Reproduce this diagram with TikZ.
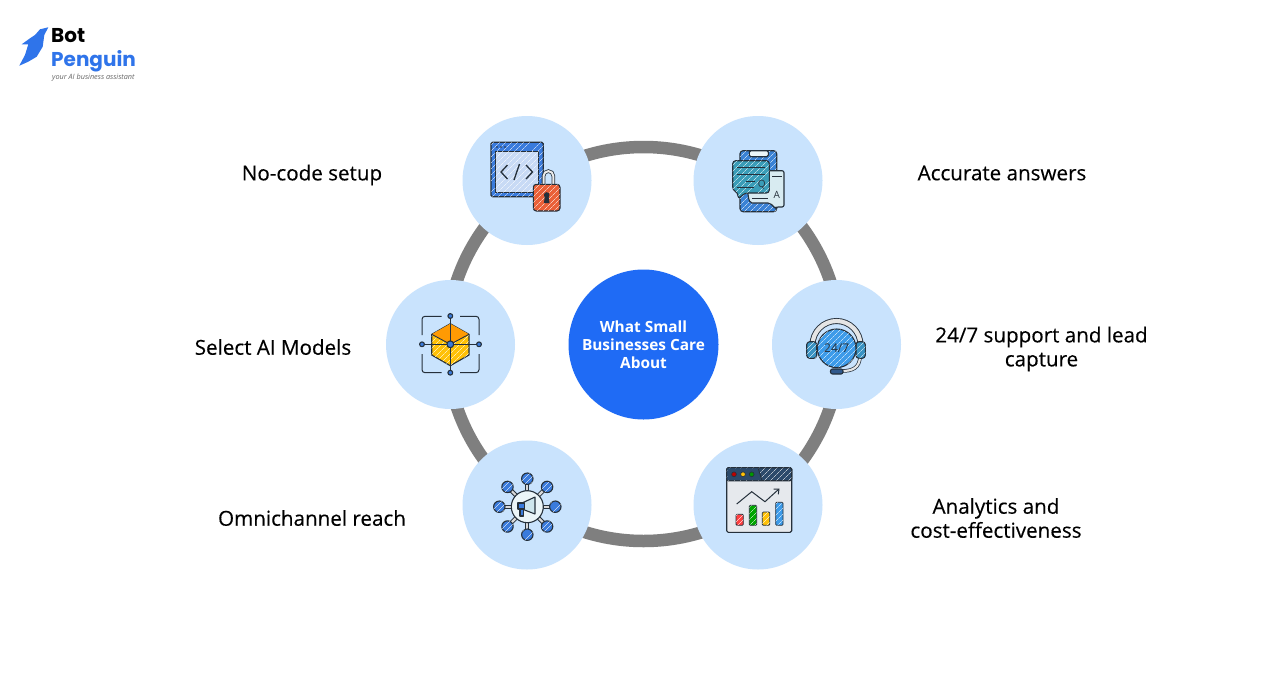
\documentclass[tikz,border=0pt]{standalone}
\usepackage{fontspec}
\setmainfont{Open Sans}
\newfontfamily\logofont{Poppins}
\newfontfamily\captionfont[FakeBold=0.3]{Open Sans}
\usetikzlibrary{patterns.meta,arrows.meta}
\definecolor{bubble}{HTML}{C9E3FD}
\definecolor{hubblue}{HTML}{1F6BF5}
\definecolor{ringgray}{HTML}{7F7F7F}
\definecolor{logoblue}{HTML}{2F74EA}
\definecolor{inkline}{HTML}{25303B}
\definecolor{iconblue}{HTML}{3A7BDC}
\definecolor{lockred}{HTML}{EA6038}
\definecolor{teal1}{HTML}{3A9DB8}
\definecolor{gold}{HTML}{FFC107}
\definecolor{navy}{HTML}{2C4A6B}
\definecolor{clockblue}{HTML}{3D9BE9}
\tikzset{
  bubblenode/.style={shape=circle,fill=bubble,minimum size=129pt,inner sep=0pt},
  caption/.style={shape=rectangle,font=\captionfont\fontsize{20.6}{24}\selectfont,align=center,text=black,inner sep=0pt},
  ink/.style={draw=inkline,line width=1.1pt,line join=round},
  sketch/.style={postaction={pattern={Lines[angle=45,distance=4pt,line width=0.35pt]},pattern color=white}}
}
\begin{document}
\begin{tikzpicture}[x=1pt,y=-1pt]
    \useasboundingbox (0,0) rectangle (1288,686);
    \fill[white] (0,0) rectangle (1288,686);

    \node[shape=circle,draw=ringgray,line width=12.5pt,minimum size=394pt,inner sep=0pt] (ring) at (643.5,344) {};
    \node[shape=circle,fill=hubblue,minimum size=150pt,inner sep=0pt,text=white,align=center,font=\fontsize{15.4}{18}\selectfont\bfseries] (hub) at (643.5,344.5) {What Small\\Businesses Care\\About};

    \node[bubblenode] (setup) at (527,180.5) {};
    \node[bubblenode] (answers) at (758,180.5) {};
    \node[bubblenode] (models) at (450.5,344.5) {};
    \node[bubblenode] (support) at (836.5,344.5) {};
    \node[bubblenode] (reach) at (527,505) {};
    \node[bubblenode] (analytics) at (758,505) {};

    \node[caption] (setup-l) at (312,175) {No-code setup};
    \node[caption] (answers-l) at (1002,173) {Accurate answers};
    \node[caption] (models-l) at (273,347) {Select AI Models};
    \node[caption] (support-l) at (1041.5,349) {24/7 support and lead\\capture};
    \node[caption] (reach-l) at (312,518) {Omnichannel reach};
    \node[caption] (analytics-l) at (996,518) {Analytics and\\cost-effectiveness};

    % logo
    \fill[logoblue] (48.3,27.3) -- (40,29.3) -- (35,35) -- (30,38.3) -- (21.7,44.3) -- (28.3,44.3) -- (25,55) -- (19.3,65.7) -- (28.3,61.7) -- (36.7,56.7) -- (42.7,46.7) -- (44.3,35) -- cycle;
    \node[anchor=base west,inner sep=0pt,font=\logofont\bfseries\fontsize{20}{20}\selectfont] (bot) at (51,42.7) {Bot};
    \node[anchor=base west,inner sep=0pt,text=logoblue,font=\logofont\bfseries\fontsize{20}{20}\selectfont] (penguin) at (51,66.7) {Penguin};
    \node[anchor=base west,inner sep=0pt,text=black!60,font=\itshape\fontsize{7.3}{8}\selectfont] (tagline) at (52,79) {your AI business assistant};

    % window and lock
    \draw[ink,line width=1.3pt,fill=iconblue,sketch,rounded corners=1.5pt] (491,142.3) rectangle (543.3,196.7);
    \fill[white] (495.7,151.7) rectangle (538.7,192.7);
    \draw[ink,fill=white!72!iconblue,sketch] (495.7,151.7) rectangle (538.7,192.7);
    \foreach \px in {497,501,505} \fill[inkline] (\px,147) circle (0.8pt);
    \draw[inkline,line width=1.3pt] (507.5,165) -- (501,172) -- (507.5,179) (514,180) -- (519.5,164) (526,165) -- (532.5,172) -- (526,179);
    \draw[line width=3.6pt,draw=inkline] (543.5,186) -- (543.5,176) arc[start angle=180,end angle=0,radius=4.9pt] -- (553.3,186);
    \draw[white!92!black,line width=2pt] (543.5,186) -- (543.5,176) arc[start angle=180,end angle=0,radius=4.9pt] -- (553.3,186);
    \draw[ink,fill=lockred,sketch,rounded corners=3pt] (533.3,184.3) rectangle (560,211);
    \fill[inkline] (546.7,195) circle (2.8pt);
    \fill[inkline] (545,195) -- (548.4,195) -- (549.5,203) -- (543.9,203) -- cycle;

    % chat sheets
    \draw[ink,fill=iconblue!80!teal1,sketch,rounded corners=3pt] (740,150.7) rectangle (776.7,211.7);
    \draw[ink,fill=white!90!teal1,rounded corners=1.5pt] (749.3,150.7) rectangle (768.3,156.7);
    \draw[ink,fill=white!80!teal1,rounded corners=2pt] (748,170.7) -- (784,170.7) -- (784,207) -- (776,207) -- (776,209) -- (770,203) -- (750,203) -- (748,196) -- cycle;
    \draw[ink,fill=teal1,sketch,rounded corners=3pt] (732.7,160.7) -- (769.3,160.7) -- (769.3,193) -- (745,193) -- (738,199) -- (738,193) -- (732.7,190) -- cycle;
    \draw[inkline,line width=0.8pt] (737,167) -- (765,167) (737,174) -- (765,174) (746,181) -- (755,181) (737,187) -- (754,187) (752,198) -- (768,198) (772,176) -- (782,176);
    \node[inner sep=0pt,text=inkline,font=\fontsize{10}{10}\selectfont] (q) at (761.7,185) {Q};
    \node[inner sep=0pt,text=inkline,font=\fontsize{10}{10}\selectfont] (a) at (776.7,195) {A};

    % cube
    \draw[inkline,line width=1pt,rounded corners=3pt] (441.5,316.3) -- (422,316.3) -- (422,335) (422,354) -- (422,372.7) -- (441.5,372.7) (460,372.7) -- (479,372.7) -- (479,354) (479,335) -- (479,316.3) -- (460,316.3);
    \draw[ink,fill=gold,sketch] (450.3,323.7) -- (469,334.3) -- (469,355) -- (450.3,365.7) -- (431.7,355) -- (431.7,334.3) -- cycle;
    \fill[orange!60!gold] (450.3,323.7) -- (469,334.3) -- (450.3,344.3) -- (431.7,334.3) -- cycle;
    \draw[inkline,line width=0.9pt] (431.7,334.3) -- (450.3,344.3) -- (469,334.3);
    \draw[inkline,line width=1pt] (450.3,315.7) -- (450.3,372.7) (422,344.3) -- (479,344.3);
    \foreach \px/\py in {450.3/316, 450.3/372.7, 422/344.3, 479/344.3} \draw[ink,fill=iconblue] (\px,\py) circle (2.4pt);
    \draw[ink,fill=iconblue] (450.3,344.3) circle (3.4pt);

    % headset
    \draw[inkline,line width=6pt] (812.5,345) arc[start angle=180,end angle=0,radius=24pt];
    \draw[white!90!black,line width=4.2pt] (812.5,345) arc[start angle=180,end angle=0,radius=24pt];
    \draw[inkline,line width=3.6pt] (860,356) .. controls (860,368) and (852,371) .. (842,371);
    \draw[white!90!black,line width=2.2pt] (860,356) .. controls (860,368) and (852,371) .. (842,371);
    \draw[ink,fill=navy!70!iconblue,rounded corners=2pt] (830.5,369) rectangle (843,374);
    \draw[ink,fill=teal1!70!iconblue,sketch,rounded corners=3pt] (806.7,341.7) rectangle (816.7,358.3);
    \draw[ink,fill=teal1!70!iconblue,sketch,rounded corners=3pt] (856,341.7) rectangle (865.3,358.3);
    \draw[ink,fill=clockblue,sketch] (836.7,348.3) circle (19.3pt);
    \node[inner sep=0pt,text=inkline,font=\fontsize{12}{12}\selectfont] (clock) at (836.7,348) {24/7};

    % megaphone network
    \foreach \ang in {0,45,...,315} \draw[inkline,line width=4.2pt] (527.3,506.7) -- +(\ang:28pt);
    \foreach \ang in {0,45,...,315} \draw[white!85!black,line width=2.2pt] (527.3,506.7) -- +(\ang:28pt);
    \foreach \ang in {0,45,...,315} \draw[ink,fill=iconblue,sketch] (527.3,506.7) ++(\ang:28pt) circle (5.7pt);
    \draw[ink,fill=white!90!teal1] (527.3,506.7) circle (16pt);
    \draw[ink,fill=white!75!teal1] (522,503) -- (535,497) -- (535,514) -- (522,509) -- cycle;
    \draw[ink,fill=iconblue] (518,503) rectangle (524.5,509);
    \draw[ink,fill=iconblue] (520,509) rectangle (523.5,516);

    % chart window
    \fill[white!88!navy] (726.7,467.7) rectangle (791.7,532.3);
    \draw[ink,rounded corners=1.5pt] (726.7,467.7) rectangle (791.7,532.3);
    \draw[ink,fill=navy,sketch,rounded corners=1.5pt] (726.7,467.7) rectangle (791.7,480.7);
    \fill[navy] (727.3,468.3) -- (758,468.3) -- (762,480.2) -- (727.3,480.2) -- cycle;
    \draw[inkline,line width=0.8pt] (758,467.7) -- (762,480.7);
    \foreach \px/\dotcol in {734/red!75!black, 743/gold, 751.7/green!60!black} \draw[inkline,fill=\dotcol,line width=0.6pt] (\px,474.3) circle (2.4pt);
    \draw[inkline,line width=1pt,-{Straight Barb[length=4pt,width=7pt]}] (736.7,504) -- (751.7,491.7) -- (765,501.7) -- (779.5,488.5);
    \draw[inkline,line width=0.8pt,fill=red!75!white,sketch,rounded corners=1pt] (736,514.3) rectangle (743.3,525.3);
    \draw[inkline,line width=0.8pt,fill=green!65!black,sketch,rounded corners=1pt] (749.3,505.3) rectangle (756.7,525.3);
    \draw[inkline,line width=0.8pt,fill=gold,sketch,rounded corners=1pt] (762.3,512) rectangle (769.7,525.3);
    \draw[inkline,line width=0.8pt,fill=clockblue,sketch,rounded corners=1pt] (775.7,502.3) rectangle (783,525.3);
\end{tikzpicture}
\end{document}
